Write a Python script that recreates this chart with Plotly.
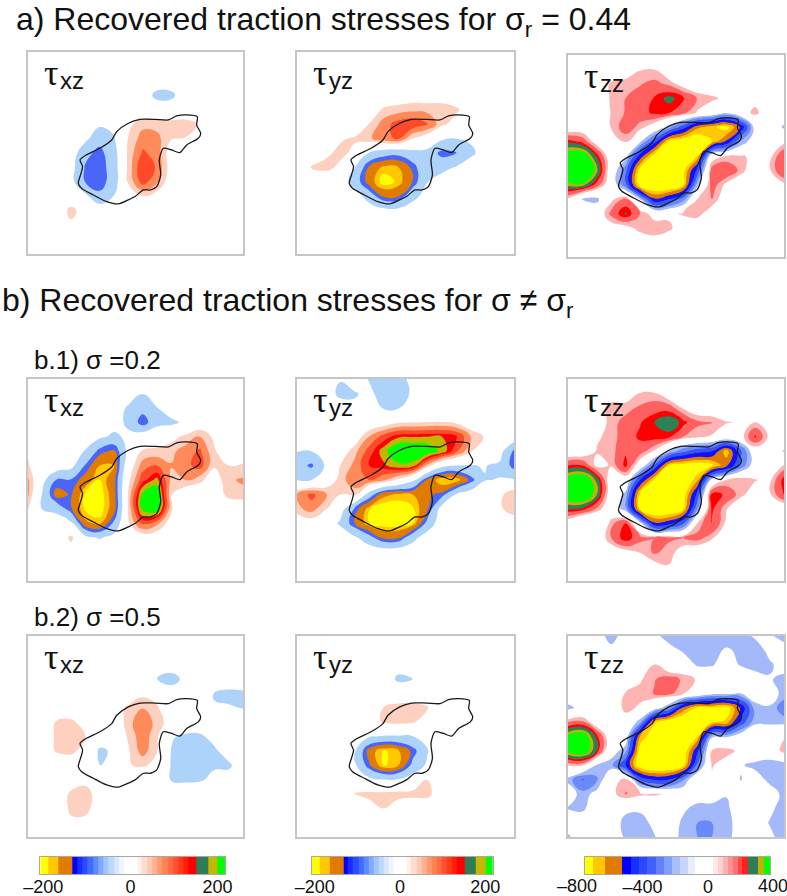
import plotly.graph_objects as go

W, H = 787, 896
O = [0] * 16

A_XZ = [O, O, O,
 [0,0,0,0,0,0,0,0,0,-60,-55,0,0,0,0,0],
 [0,0,0,0,0,0,0,0,5,5,0,0,0,0,0,0],
 [0,0,0,0,0,-30,-25,30,60,58,55,58,35,0,0,0],
 [0,0,0,0,-25,-80,-45,42,85,80,42,38,0,0,0,0],
 [0,0,0,-5,-85,-115,-65,50,105,88,15,0,0,0,0,0],
 [0,0,0,-15,-105,-125,-70,50,130,95,20,0,0,0,0,0],
 [0,0,0,-20,-102,-125,-70,45,115,75,10,0,0,0,0,0],
 [0,0,0,0,-25,-85,-38,12,38,20,0,0,0,0,0,0],
 [0,0,0,55,15,0,0,0,0,0,0,0,0,0,0,0],
 [0,0,0,30,20,0,0,0,0,0,0,0,0,0,0,0],
 O, O]

A_YZ = [O, O, O,
 [0,0,0,0,0,0,0,10,15,15,15,5,0,0,0,0],
 [0,0,0,0,0,5,48,55,62,60,60,48,10,0,0,0],
 [0,0,0,0,5,42,85,115,125,105,50,20,0,0,0,0],
 [0,0,0,35,45,65,90,105,40,10,-30,-42,-30,0,0,0],
 [0,0,32,50,30,-45,-75,-85,-60,-60,-115,-105,-55,-10,0,0],
 [0,42,52,30,-40,-140,-178,-172,-120,-50,-60,-35,-5,0,0,0],
 [0,5,0,0,-70,-150,-205,-185,-128,-42,-10,0,0,0,0,0],
 [0,0,0,0,-5,-70,-135,-132,-60,-15,0,0,0,0,0,0],
 [0,0,0,0,0,-5,-20,-20,-5,0,0,0,0,0,0,0],
 O, O, O]

A_ZZ = [O,
 [0,0,0,0,20,75,78,0,0,0,0,0,0,0,0,0],
 [0,0,30,90,110,125,150,115,40,0,0,0,0,0,0,0],
 [0,0,10,90,130,160,205,260,210,125,95,60,20,50,0,0],
 [0,0,0,85,135,170,215,205,150,70,20,-80,40,100,20,0],
 [0,10,0,85,170,110,20,-150,-350,-600,-680,-750,-500,-40,0,-120],
 [230,180,30,20,85,-80,-350,-720,-800,-800,-700,-500,-170,-20,10,60],
 [400,420,230,0,-60,-450,-760,-820,-820,-700,20,82,85,70,55,200],
 [450,450,320,0,-250,-760,-850,-850,-750,-350,170,200,110,10,70,210],
 [320,330,170,0,-250,-780,-850,-850,-720,-120,170,60,0,0,0,60],
 [60,-110,-130,60,150,-100,-500,-400,-220,85,130,10,0,0,0,0],
 [0,0,0,150,250,130,40,60,90,110,20,0,0,0,0,0],
 [0,0,0,30,40,110,130,100,20,0,0,0,0,0,0,0],
 [0,0,0,0,0,0,30,0,0,0,0,0,0,0,0,0],
 O]

B1_XZ = [O,
 [0,0,0,0,0,0,0,0,-38,0,0,0,0,0,0,0],
 [0,0,0,0,0,0,0,-50,-80,-42,0,0,0,0,0,0],
 [0,0,0,0,0,0,-20,-50,-125,-60,-55,-25,0,0,0,0],
 [0,0,0,0,0,-30,-50,-30,0,10,25,50,75,30,0,0],
 [35,0,0,0,-45,-115,-140,-20,45,50,62,85,105,45,10,30],
 [45,0,0,-20,-105,-170,-170,10,85,100,72,90,115,45,40,42],
 [75,-20,-105,-105,-150,-192,-145,30,120,160,60,70,50,15,65,75],
 [75,-45,-150,-125,-195,-205,-150,45,185,210,42,5,0,5,55,60],
 [42,-42,-60,-125,-195,-205,-150,45,190,205,45,0,0,0,0,0],
 [0,0,0,-25,-160,-180,-90,35,110,80,15,0,0,0,0,0],
 [0,0,0,50,-20,-45,-20,5,10,5,0,0,0,0,0,0],
 [0,0,0,15,0,0,0,0,0,0,0,0,0,0,0,0],
 O, O]

B1_YZ = [
 [0,0,0,-35,0,-45,-70,-65,-20,0,0,0,0,0,0,0],
 [0,0,0,-60,-45,-25,-70,-70,-30,0,0,0,0,0,0,0],
 [0,0,0,0,-30,0,-45,-45,0,0,0,0,0,0,0,0],
 [0,0,0,0,0,0,15,35,38,40,42,32,5,0,0,0],
 [0,0,0,0,10,72,115,145,148,150,152,135,70,35,0,0],
 [-38,-40,-5,10,60,115,165,220,220,210,170,110,42,30,-15,-110],
 [-75,-110,-30,40,80,130,145,170,165,60,-20,-42,-42,-38,-50,-120],
 [-40,-40,5,55,95,100,75,30,-25,-135,-195,-190,-120,-42,-38,-35],
 [70,110,72,40,50,-70,-160,-175,-170,-138,-120,-35,-5,0,25,75],
 [60,85,42,-10,-110,-188,-210,-210,-195,-140,-15,0,0,0,30,70],
 [0,15,0,-50,-130,-190,-205,-205,-190,-85,0,0,0,0,0,0],
 [0,0,0,0,-30,-80,-140,-135,-60,-5,0,0,0,0,0,0],
 O, O, O]

B1_ZZ = [O,
 [0,0,75,45,30,85,85,10,0,0,0,0,0,0,0,0],
 [0,0,50,100,110,140,170,170,70,10,0,0,0,0,0,0],
 [0,0,15,110,150,195,240,290,220,145,135,85,80,80,20,0],
 [0,0,70,100,170,210,230,215,130,95,70,30,45,210,60,0],
 [0,10,85,105,190,170,70,-110,-250,-350,-400,-680,-300,20,0,-110],
 [200,200,60,85,220,10,-300,-700,-760,-790,-730,-550,-250,-20,20,90],
 [400,430,280,0,20,-400,-720,-850,-830,-640,-50,85,130,85,60,230],
 [420,450,300,0,-130,-730,-850,-850,-780,-350,225,190,100,30,65,210],
 [250,230,120,0,-150,-720,-860,-850,-720,-180,215,85,0,0,0,0],
 [10,-110,-100,110,200,-60,-500,-450,-300,85,215,60,0,0,0,0],
 [0,0,0,130,240,150,130,140,130,160,90,0,0,0,0,0],
 [0,0,0,20,50,85,140,110,40,0,0,0,0,0,0,0],
 [0,0,0,0,0,0,45,75,0,0,0,0,0,0,0,0],
 O]

B2_XZ = [O, O, O,
 [0,0,0,0,0,0,0,0,0,-42,-70,-20,0,0,0,0],
 [0,0,0,0,0,0,0,5,30,20,0,0,0,-42,-55,-50],
 [0,0,0,0,0,0,15,48,68,45,0,0,0,-38,-35,-42],
 [0,0,45,50,20,0,0,58,95,58,20,0,0,0,0,0],
 [0,5,48,50,42,-5,0,45,92,45,-35,-50,-50,-20,0,0],
 [0,10,45,50,25,-50,-32,35,85,42,-42,-60,-60,-50,-10,0],
 [0,0,0,10,0,-42,-25,38,45,30,-45,-60,-60,-45,-50,-5],
 [0,0,0,5,25,0,0,0,0,0,-42,-45,-45,-30,-15,0],
 [0,0,0,50,60,15,0,0,0,-35,-30,-20,-10,0,0,0],
 [0,0,0,50,55,10,0,0,0,0,0,0,0,0,0,0],
 [0,0,0,30,25,0,0,0,0,0,0,0,0,0,0,0],
 O]

B2_YZ = [O, O,
 [0,0,0,0,0,0,0,-15,-35,0,0,0,0,0,0,0],
 [0,0,0,0,0,0,0,-52,-40,0,0,0,0,0,0,0],
 [0,0,0,0,0,0,0,5,5,0,0,0,0,0,0,0],
 [0,0,0,0,0,10,42,55,55,45,5,0,0,0,0,0],
 [0,0,0,0,0,20,45,50,45,15,0,0,0,0,0,0],
 [0,0,0,0,0,-35,-45,-45,-42,0,0,0,0,0,0,0],
 [0,0,0,0,-35,-150,-194,-175,-120,-45,-5,0,0,0,0,0],
 [0,0,0,0,-30,-125,-194,-172,-85,-30,0,0,0,0,0,0],
 [0,0,0,0,0,-25,-40,-38,-10,42,0,0,0,0,0,0],
 [0,0,0,0,45,50,50,55,55,55,5,0,0,0,0,0],
 [0,0,0,0,0,25,40,15,0,0,0,0,0,0,0,0],
 O, O]

B2_ZZ = [
 [0,0,-50,-140,-50,0,-60,-160,-180,-180,-180,-180,-150,-80,-90,-160],
 [0,0,0,-70,0,0,0,-40,-120,-170,-150,-80,-130,-170,-60,-20],
 [0,0,0,0,0,0,80,0,0,-120,-110,-50,-110,-150,-120,-50],
 [0,0,0,0,30,70,125,160,120,70,0,0,0,-40,-90,-130],
 [0,0,0,10,85,100,135,150,85,30,-60,-70,-100,-50,-50,-130],
 [-130,-60,0,20,100,70,-20,-180,-550,-720,-720,-760,-500,-130,-110,-250],
 [130,150,10,0,40,-150,-680,-800,-850,-850,-720,-680,-350,-120,-120,-130],
 [380,420,220,0,-20,-620,-800,-850,-850,-700,-120,-120,-20,0,0,70],
 [380,430,240,-40,-150,-760,-860,-860,-800,-420,90,120,50,0,-20,120],
 [85,85,-110,-150,-400,-800,-870,-860,-740,-250,90,20,-90,-130,-150,-160],
 [-130,-290,-200,40,100,-300,-420,-400,-200,50,60,-20,-105,-40,-130,-170],
 [-20,-150,-60,50,135,100,90,70,0,0,10,-90,-40,0,-40,-130],
 [-110,-130,0,0,-60,-70,0,0,-70,-150,-160,-130,0,0,-60,-170],
 [0,0,0,0,-150,-160,-60,0,-130,-180,-180,-170,0,0,-110,-170],
 [-130,0,0,0,-120,-150,-110,0,-150,-180,-180,-160,0,0,-60,-170]]

OUTLINE_X = [3.63,4.05,5.02,5.84,6.19,7.0,7.81,8.86,9.79,10.37,11.07,11.81,11.77,12.05,11.88,11.07,10.6,10.02,9.44,9.16,9.26,8.98,8.56,8.05,7.47,7.0,6.3,5.49,4.56,3.74,3.51,3.7,3.81,3.63]
OUTLINE_Y = [7.48,7.14,6.67,6.1,5.52,4.94,4.67,4.67,4.71,4.43,4.36,4.48,5.06,5.64,5.98,6.44,6.97,6.79,6.67,7.48,8.52,9.33,9.56,9.56,10.02,10.25,10.53,10.37,9.91,9.45,9.1,8.41,7.94,7.48]

SHEAR_LEVELS = [-190,-170,-130,-100,-40,40,70,100,130,150,180]
SHEAR_COLORS = ["#ffff00","#ffc800","#e07b00","#4a66f8","#aed3fb","#ffffff","#fdd0bf","#ff8a5a","#ff4a2a","#ff0000","#bdb800","#00ff00"]
NORMAL_LEVELS = [-700,-620,-520,-400,-280,-180,-100,80,130,200,240,300,340]
NORMAL_COLORS = ["#ffff00","#ffc800","#e07b00","#1212ff","#3a55f5","#6a8af7","#a4b9fa","#ffffff","#ffb4b4","#ff6060","#ff0000","#2e8057","#bdb400","#00ff00"]

BAR_SHEAR_EDGES = [-207,-188,-165,-133,-122,-110,-98,-86,-74,-62,-50,-38,-26,-14,16,26,38,50,62,74,86,98,110,122,134,152,178,200,218]
BAR_SHEAR_COLORS = ["#ffff00","#ffc800","#e07b00","#0000ff","#1a2cff","#2a4cff","#3f6cff","#5a8cff","#80aaff","#a0c6fd","#bcd8fd","#d8e8fe","#f0f6ff","#ffffff","#fff0ea","#ffdccc","#ffc8b0","#ffb090","#ff9a70","#ff8050","#ff6a40","#ff5030","#ff3a18","#ff2008","#ff0000","#2e7d57","#c4b800","#00ff00"]
BAR_NORMAL_EDGES = [-750,-700,-628,-526,-470,-420,-370,-320,-270,-220,-170,-120,-80,30,60,90,120,150,180,210,244,305,341,378]
BAR_NORMAL_COLORS = ["#ffff00","#ffc800","#e07b00","#0000ff","#1630ff","#2a48ff","#4060ff","#6080ff","#80a0ff","#a8bfff","#c8d6ff","#e8eeff","#ffffff","#ffe8e8","#ffd0d0","#ffb0b0","#ff9090","#ff7070","#ff4848","#ff2020","#2e7d57","#bdb400","#00ff00"]

TITLE_A = "a) Recovered traction stresses for σ<sub>r</sub> = 0.44"
TITLE_B = "b) Recovered traction stresses for σ ≠ σ<sub>r</sub>"
SUB_B1 = "b.1) σ =0.2"
SUB_B2 = "b.2) σ =0.5"
COMPONENTS = ["xz", "yz", "zz"]
BAR_TICKS = [-200, 0, 200]


def band_scale(levels, colors, start, end, size):
    n = int((end - start) / size) + 1
    out = []
    for k in range(n + 1):
        mid = start + (k - 0.5) * size
        idx = sum(1 for t in levels if mid > t)
        out.append([k / n, colors[idx]])
    return out


def step_scale(colors):
    n = len(colors)
    out = []
    for i, c in enumerate(colors):
        out += [[i / n, c], [(i + 1) / n, c]]
    return out


SHEAR = dict(start=-230, end=230, size=10)
NORMAL = dict(start=-900, end=500, size=10)
shear_scale = band_scale(SHEAR_LEVELS, SHEAR_COLORS, **SHEAR)
normal_scale = band_scale(NORMAL_LEVELS, NORMAL_COLORS, **NORMAL)

panels = [
 (A_XZ, 28, 243, 52, 254, 0.0), (A_YZ, 297, 514, 52, 254, 0.1), (A_ZZ, 568, 784, 55, 257, 0.0),
 (B1_XZ, 28, 243, 379, 581, 0.0), (B1_YZ, 297, 514, 379, 581, 0.1), (B1_ZZ, 568, 784, 379, 581, 0.0),
 (B2_XZ, 28, 243, 636, 837, 0.0), (B2_YZ, 297, 514, 636, 837, 0.1), (B2_ZZ, 568, 784, 636, 837, 0.0),
]

fig = go.Figure()
layout = dict(width=W, height=H, margin=dict(l=0, r=0, t=0, b=0, autoexpand=False), paper_bgcolor="white",
              plot_bgcolor="white", showlegend=False, font=dict(family="Liberation Sans", color="#111"))
ann = []

for i, (z, x0, x1, y0, y1, dx) in enumerate(panels):
    n = i + 1
    normal = i % 3 == 2
    fig.add_trace(go.Contour(
        z=z, x=list(range(16)), y=list(range(15)), xaxis=f"x{n}", yaxis=f"y{n}",
        autocontour=False, contours=dict(coloring="fill", showlines=False, **(NORMAL if normal else SHEAR)),
        colorscale=normal_scale if normal else shear_scale, showscale=False,
        line=dict(width=0, smoothing=1.3), hoverinfo="skip"))
    fig.add_trace(go.Scatter(
        x=[v + dx for v in OUTLINE_X], y=OUTLINE_Y, mode="lines", xaxis=f"x{n}", yaxis=f"y{n}",
        line=dict(color="#1a1a1a", width=1.3, shape="spline", smoothing=0.7), hoverinfo="skip"))
    frame = dict(showline=True, mirror=True, linecolor="#c6c6c6", linewidth=1.5, showgrid=False,
                 zeroline=False, showticklabels=False, ticks="")
    layout[f"xaxis{n}"] = dict(domain=[x0 / W, x1 / W], range=[0, 15], anchor=f"y{n}", **frame)
    layout[f"yaxis{n}"] = dict(domain=[1 - y1 / H, 1 - y0 / H], range=[14, 0], anchor=f"x{n}", **frame)
    ann.append(dict(text="τ", x=(x0 + 14) / W, y=1 - (y0 + 21) / H, xanchor="left", yanchor="middle",
                    font=dict(size=36, family="Liberation Serif", color="#111")))
    ann.append(dict(text=COMPONENTS[i % 3], x=(x0 + 30) / W, y=1 - (y0 + 28) / H, xanchor="left", yanchor="middle",
                    font=dict(size=24, family="Liberation Sans", color="#111")))

bars = [
 (BAR_SHEAR_EDGES, BAR_SHEAR_COLORS, 40.3, 225.3, BAR_TICKS, BAR_TICKS),
 (BAR_SHEAR_EDGES, BAR_SHEAR_COLORS, 311.7, 493, BAR_TICKS, BAR_TICKS),
 (BAR_NORMAL_EDGES, BAR_NORMAL_COLORS, 585, 770, [-400, 0], [-400, 0]),
]
for j, (edges, colors, x0, x1, tv, tt) in enumerate(bars):
    n = 10 + j
    fig.add_trace(go.Heatmap(z=[list(range(len(colors)))], x=edges, y=[0, 1], xaxis=f"x{n}", yaxis=f"y{n}",
                             colorscale=step_scale(colors), showscale=False, zmin=-0.5, zmax=len(colors) - 0.5,
                             hoverinfo="skip"))
    layout[f"xaxis{n}"] = dict(domain=[x0 / W, x1 / W], range=[edges[0], edges[-1]], anchor=f"y{n}",
                               tickvals=tv, ticktext=[str(v).replace("-", "–") for v in tt], ticks="",
                               ticklabelstandoff=-4,
                               tickfont=dict(size=18, family="Liberation Sans", color="#111"),
                               showline=True, mirror=True, linecolor="#a8a8a8", linewidth=1, showgrid=False, zeroline=False)
    layout[f"yaxis{n}"] = dict(domain=[1 - 874 / H, 1 - 857 / H], range=[0, 1], anchor=f"x{n}", showticklabels=False,
                               ticks="", showline=True, mirror=True, linecolor="#a8a8a8", linewidth=1, showgrid=False, zeroline=False)

for text, px in (("–800", 577), ("400", 773)):
    ann.append(dict(text=text, x=px / W, y=1 - 886 / H, xanchor="center", yanchor="middle",
                    font=dict(size=18, family="Liberation Sans", color="#111")))

ann.append(dict(text=TITLE_A, x=14 / W, y=1 - 21 / H, xanchor="left", yanchor="middle", font=dict(size=32, color="#111")))
ann.append(dict(text=TITLE_B, x=0 / W, y=1 - 303 / H, xanchor="left", yanchor="middle", font=dict(size=32, color="#111")))
ann.append(dict(text=SUB_B1, x=32 / W, y=1 - 360 / H, xanchor="left", yanchor="middle", font=dict(size=26, color="#111")))
ann.append(dict(text=SUB_B2, x=32 / W, y=1 - 617 / H, xanchor="left", yanchor="middle", font=dict(size=26, color="#111")))

for a in ann:
    a.setdefault("xref", "paper")
    a.setdefault("yref", "paper")
    a["showarrow"] = False
layout["annotations"] = ann
fig.update_layout(**layout)
fig.write_html("out.html", config=dict(displayModeBar=False),
               post_script="document.body.style.margin='0';document.body.style.overflow='hidden';")
